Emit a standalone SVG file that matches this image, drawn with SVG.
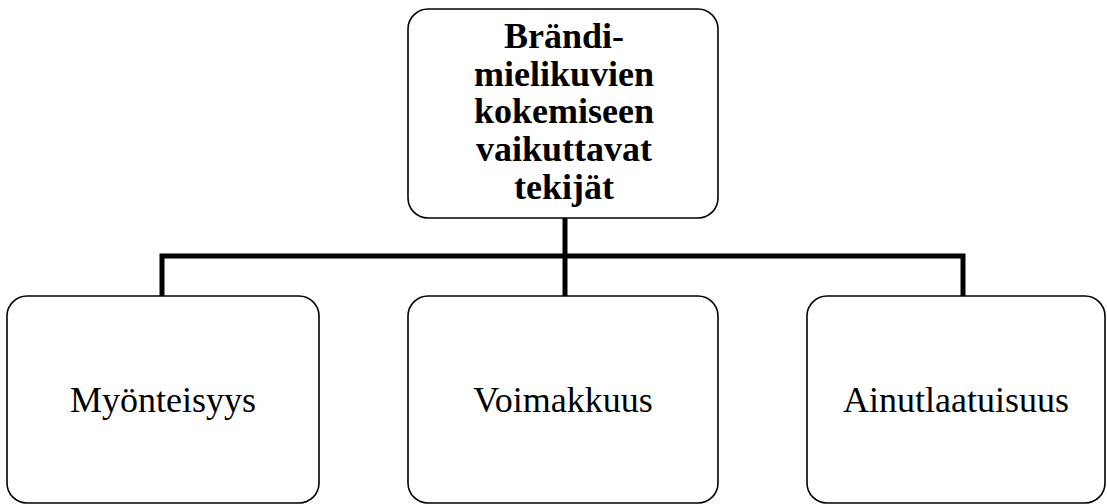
<svg xmlns="http://www.w3.org/2000/svg" width="1107" height="504" viewBox="0 0 1107 504">
<style>
.box{fill:#fff;stroke:#000;stroke-width:1.6}
.conn{fill:none;stroke:#000;stroke-width:5;stroke-linejoin:miter}
.t{font-family:"Liberation Serif","Times New Roman",serif;font-size:36px;fill:#000;text-anchor:middle}
.b{font-weight:bold}
</style>
<g id="connectors">
<path class="conn" d="M565 218 V256 M162 296 V256 H963 V296 M565 256 V296"/>
</g>
<g id="root">
<rect class="box" x="408" y="9" width="310" height="209" rx="20"/>
<text class="t b" x="564" y="48">Brändi-</text>
<text class="t b" x="564" y="86">mielikuvien</text>
<text class="t b" x="564" y="123">kokemiseen</text>
<text class="t b" x="564" y="161">vaikuttavat</text>
<text class="t b" x="564" y="199">tekijät</text>
</g>
<g id="n1">
<rect class="box" x="7" y="296" width="312" height="207" rx="20"/>
<text class="t" x="163" y="412">Myönteisyys</text>
</g>
<g id="n2">
<rect class="box" x="408" y="296" width="310" height="207" rx="20"/>
<text class="t" x="563" y="412">Voimakkuus</text>
</g>
<g id="n3">
<rect class="box" x="807" y="296" width="298" height="207" rx="20"/>
<text class="t" x="956" y="412">Ainutlaatuisuus</text>
</g>
</svg>
